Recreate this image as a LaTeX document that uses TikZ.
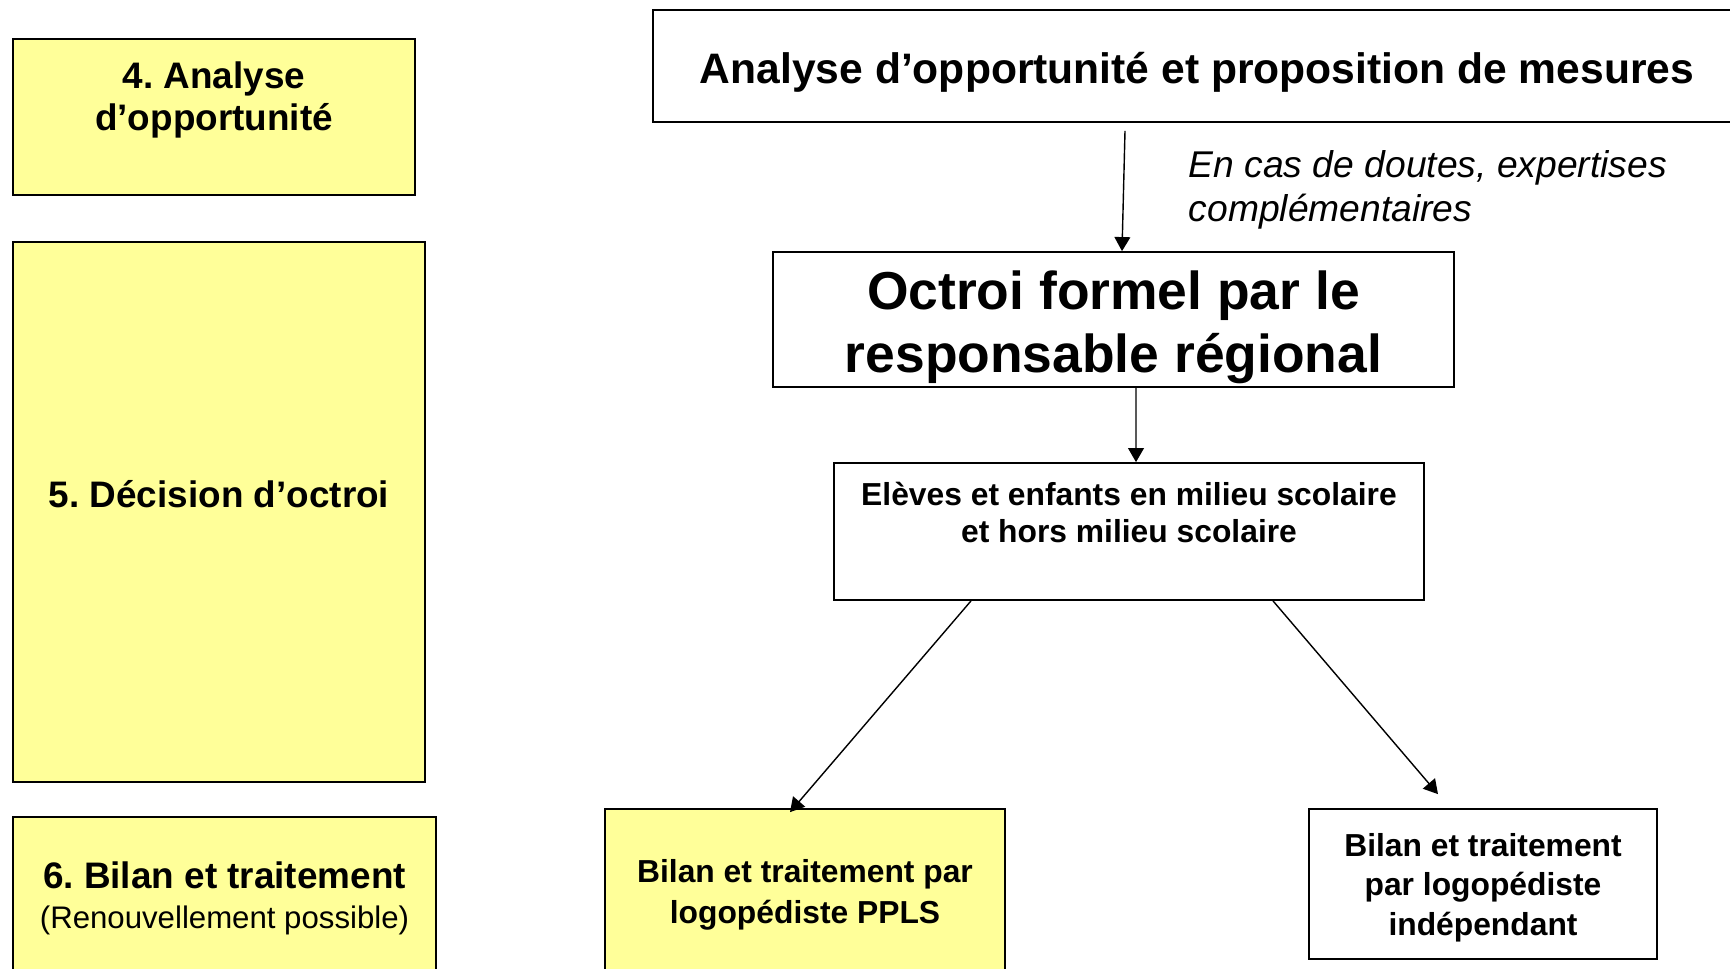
\documentclass[tikz,border=0pt]{standalone}
\usepackage{fontspec}
\setmainfont{Liberation Sans}
\usepackage{xcolor}
\usetikzlibrary{arrows.meta, fit, calc}
\definecolor{paleyellow}{HTML}{FFFF99}
\frenchspacing

\begin{document}
\begin{tikzpicture}[x=0.02cm, y=-0.02cm,
    box/.style={draw, line width=1pt, inner sep=0pt},
    yellowbox/.style={box, fill=paleyellow},
    arr/.style={-{Triangle[length=8pt, width=9pt]}, line width=0.8pt},
    stage/.style={anchor=base, align=center, font=\bfseries\fontsize{21pt}{23.9pt}\selectfont},
    item/.style={anchor=base, align=center, font=\bfseries\fontsize{18.1pt}{22.4pt}\selectfont}]
        \useasboundingbox (0,0) rectangle (1730,968);
        \clip (0,0) rectangle (1730,968);
        % Stages on the left
        \node[yellowbox, fit={(13,39) (415,195)}] (analyse) {};
        \node[yellowbox, fit={(13,242) (425,782)}] (decision) {};
        \node[yellowbox, fit={(13,817) (436,1000)}] (bilan) {};
        \node[stage] (analysetext) at (214,130) {4. Analyse\\d’opportunité};
        \node[stage] (decisiontext) at (219,507) {5. Décision d’octroi};
        \node[stage] (bilantext) at (224.5,888) {6. Bilan et traitement};
        \node[anchor=base, font=\fontsize{17.75pt}{21pt}\selectfont] (renouv) at (224.5,928) {(Renouvellement possible)};
        % Procedure boxes
        \node[box, fit={(653,10) (1742,122)}] (top) {};
        \node[box, fit={(773,252) (1454,387)}] (octroi) {};
        \node[box, fit={(834,463) (1424,600)}] (eleves) {};
        \node[yellowbox, fit={(605,809) (1005,1000)}] (ppls) {};
        \node[box, fit={(1309,809) (1657,959)}] (indep) {};
        \node[anchor=base, font=\bfseries\fontsize{24.25pt}{29pt}\selectfont] (toptext) at (1197,83) {Analyse d’opportunité et proposition de mesures};
        \node[anchor=base west, align=left, font=\itshape\fontsize{21.2pt}{25pt}\selectfont] (doutes) at (1182.5,221) {En cas de doutes, expertises\\complémentaires};
        \node[anchor=base, align=center, font=\bfseries\fontsize{30.4pt}{35.8pt}\selectfont] (octroitext) at (1113.5,372) {Octroi formel par le\\responsable régional};
        \node[item, font=\bfseries\fontsize{18.1pt}{21pt}\selectfont] (elevestext) at (1129,542) {Elèves et enfants en milieu scolaire\\et hors milieu scolaire};
        \node[item, font=\bfseries\fontsize{18.1pt}{22.8pt}\selectfont] (pplstext) at (805,923) {Bilan et traitement par\\logopédiste PPLS};
        \node[item] (indeptext) at (1483,935) {Bilan et traitement\\par logopédiste\\indépendant};
        % Arrows
        \draw[arr] ($(top.south)+(-72.5,8)$) -- ($(octroi.north)+(8.5,0)$);
        \draw[arr] ($(octroi.south)+(22.5,0)$) -- ($(eleves.north)+(7,0)$);
        \draw[arr] ($(eleves.south)+(-158,0)$) -- ($(ppls.north)+(-15,4)$);
        \draw[arr] ($(eleves.south)+(144,0)$) -- ($(indep.north)+(-45,-14)$);
\end{tikzpicture}
\end{document}
